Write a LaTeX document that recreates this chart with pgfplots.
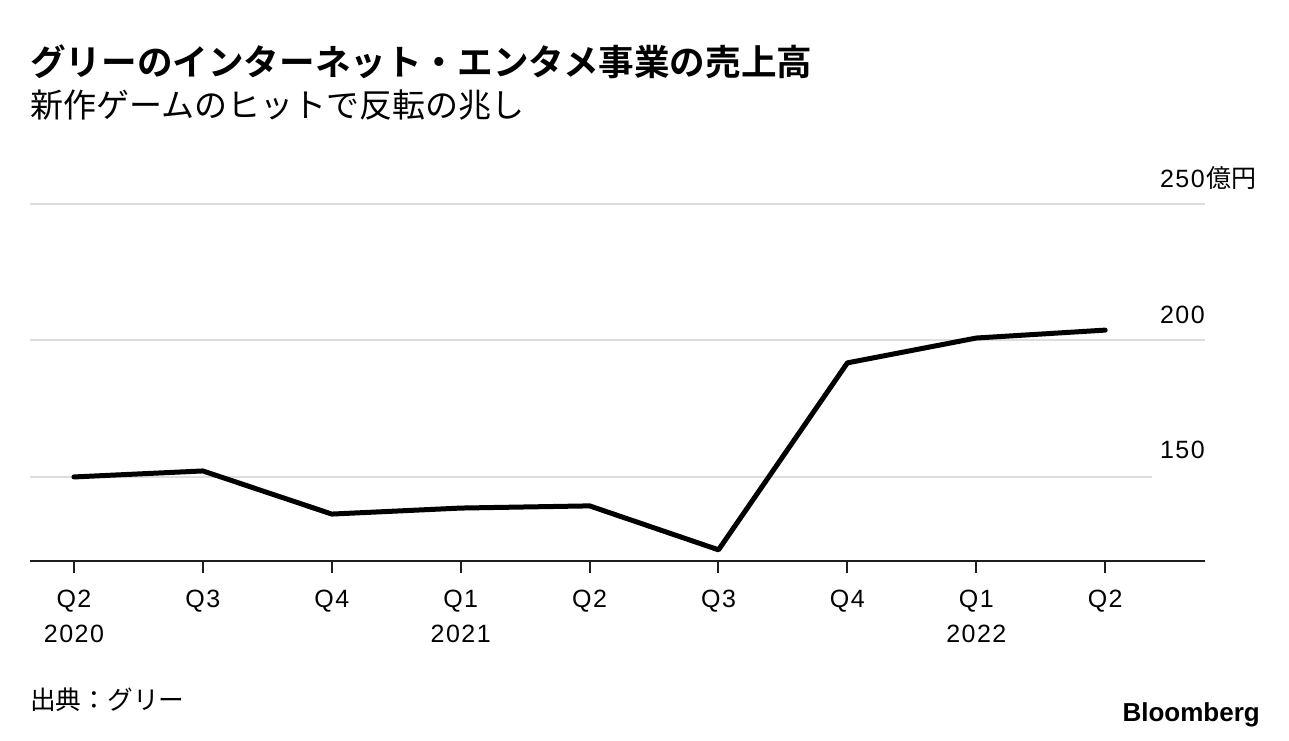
\documentclass[border=0pt]{standalone}
\usepackage{fontspec}
\setmainfont{Liberation Sans}
\newfontfamily\num{Liberation Sans}[LetterSpace=6]
\newfontfamily\jp{Noto Sans CJK JP}[BoldFont={Noto Sans CJK JP Bold}]
\usepackage{pgfplots}
\pgfplotsset{compat=1.18}
\definecolor{gridc}{RGB}{221,221,221}
\definecolor{axisc}{RGB}{30,30,30}
\begin{document}
\begin{tikzpicture}[x=1pt,y=1pt]
\useasboundingbox (0pt,0pt) rectangle (1289pt,-740pt);
\node[anchor=base west, inner sep=0] at (30pt,-75pt) {\jp\bfseries\fontsize{35.6}{40}\selectfont グリーのインターネット・エンタメ事業の売上高};
\node[anchor=base west, inner sep=0] at (30pt,-117pt) {\jp\fontsize{33}{38}\selectfont 新作ゲームのヒットで反転の兆し};
\node[anchor=base west, inner sep=0] at (30pt,-709pt) {\jp\fontsize{25.7}{30}\selectfont 出典：グリー};
\node[anchor=base east, inner sep=0] at (1260pt,-721pt) {\fontsize{26}{30}\selectfont\bfseries Bloomberg};
\begin{axis}[
  at={(30pt,-561pt)}, anchor=south west,
  scale only axis, width=1175pt, height=357pt,
  xmin=-0.341, xmax=8.774, ymin=119.2, ymax=250,
  clip=false,
  axis x line*=bottom, axis y line=none,
  x axis line style={axisc, line width=2pt},
  xtick={0,1,2,3,4,5,6,7,8},
  xticklabels={{Q2\\2020},Q3,Q4,{Q1\\2021},Q2,Q3,Q4,{Q1\\2022},Q2},
  xtick align=outside,
  major tick length=12pt,
  xtick style={axisc, line width=2pt},
  xticklabel style={align=center, anchor=north, inner sep=0pt, yshift=-17pt, font=\num\fontsize{25}{35}\selectfont},
  ytick=\empty,
]
\draw[gridc, line width=2pt] (axis cs:-0.341,250) -- (axis cs:8.774,250);
\draw[gridc, line width=2pt] (axis cs:-0.341,200) -- (axis cs:8.774,200);
\draw[gridc, line width=2pt] (axis cs:-0.341,150) -- (axis cs:8.363,150);
\node[anchor=base east, inner sep=0, yshift=17pt, font=\num\fontsize{25}{30}\selectfont] (l250) at (axis cs:8.774,250) {250};
\node[anchor=base west, inner sep=0, xshift=1pt, font=\fontsize{25}{30}\selectfont] at (l250.base east) {\jp 億円};
\node[anchor=base east, inner sep=0, yshift=17pt, font=\num\fontsize{25}{30}\selectfont] at (axis cs:8.774,200) {200};
\node[anchor=base east, inner sep=0, yshift=18pt, font=\num\fontsize{25}{30}\selectfont] at (axis cs:8.774,150) {150};
\addplot[black, line width=5pt, line join=round, line cap=round, mark=none] coordinates {
(0,150.0) (1,152.2) (2,136.4) (3,138.6) (4,139.4) (5,123.3) (6,191.8) (7,200.9) (8,203.8)};
\end{axis}
\end{tikzpicture}
\end{document}
